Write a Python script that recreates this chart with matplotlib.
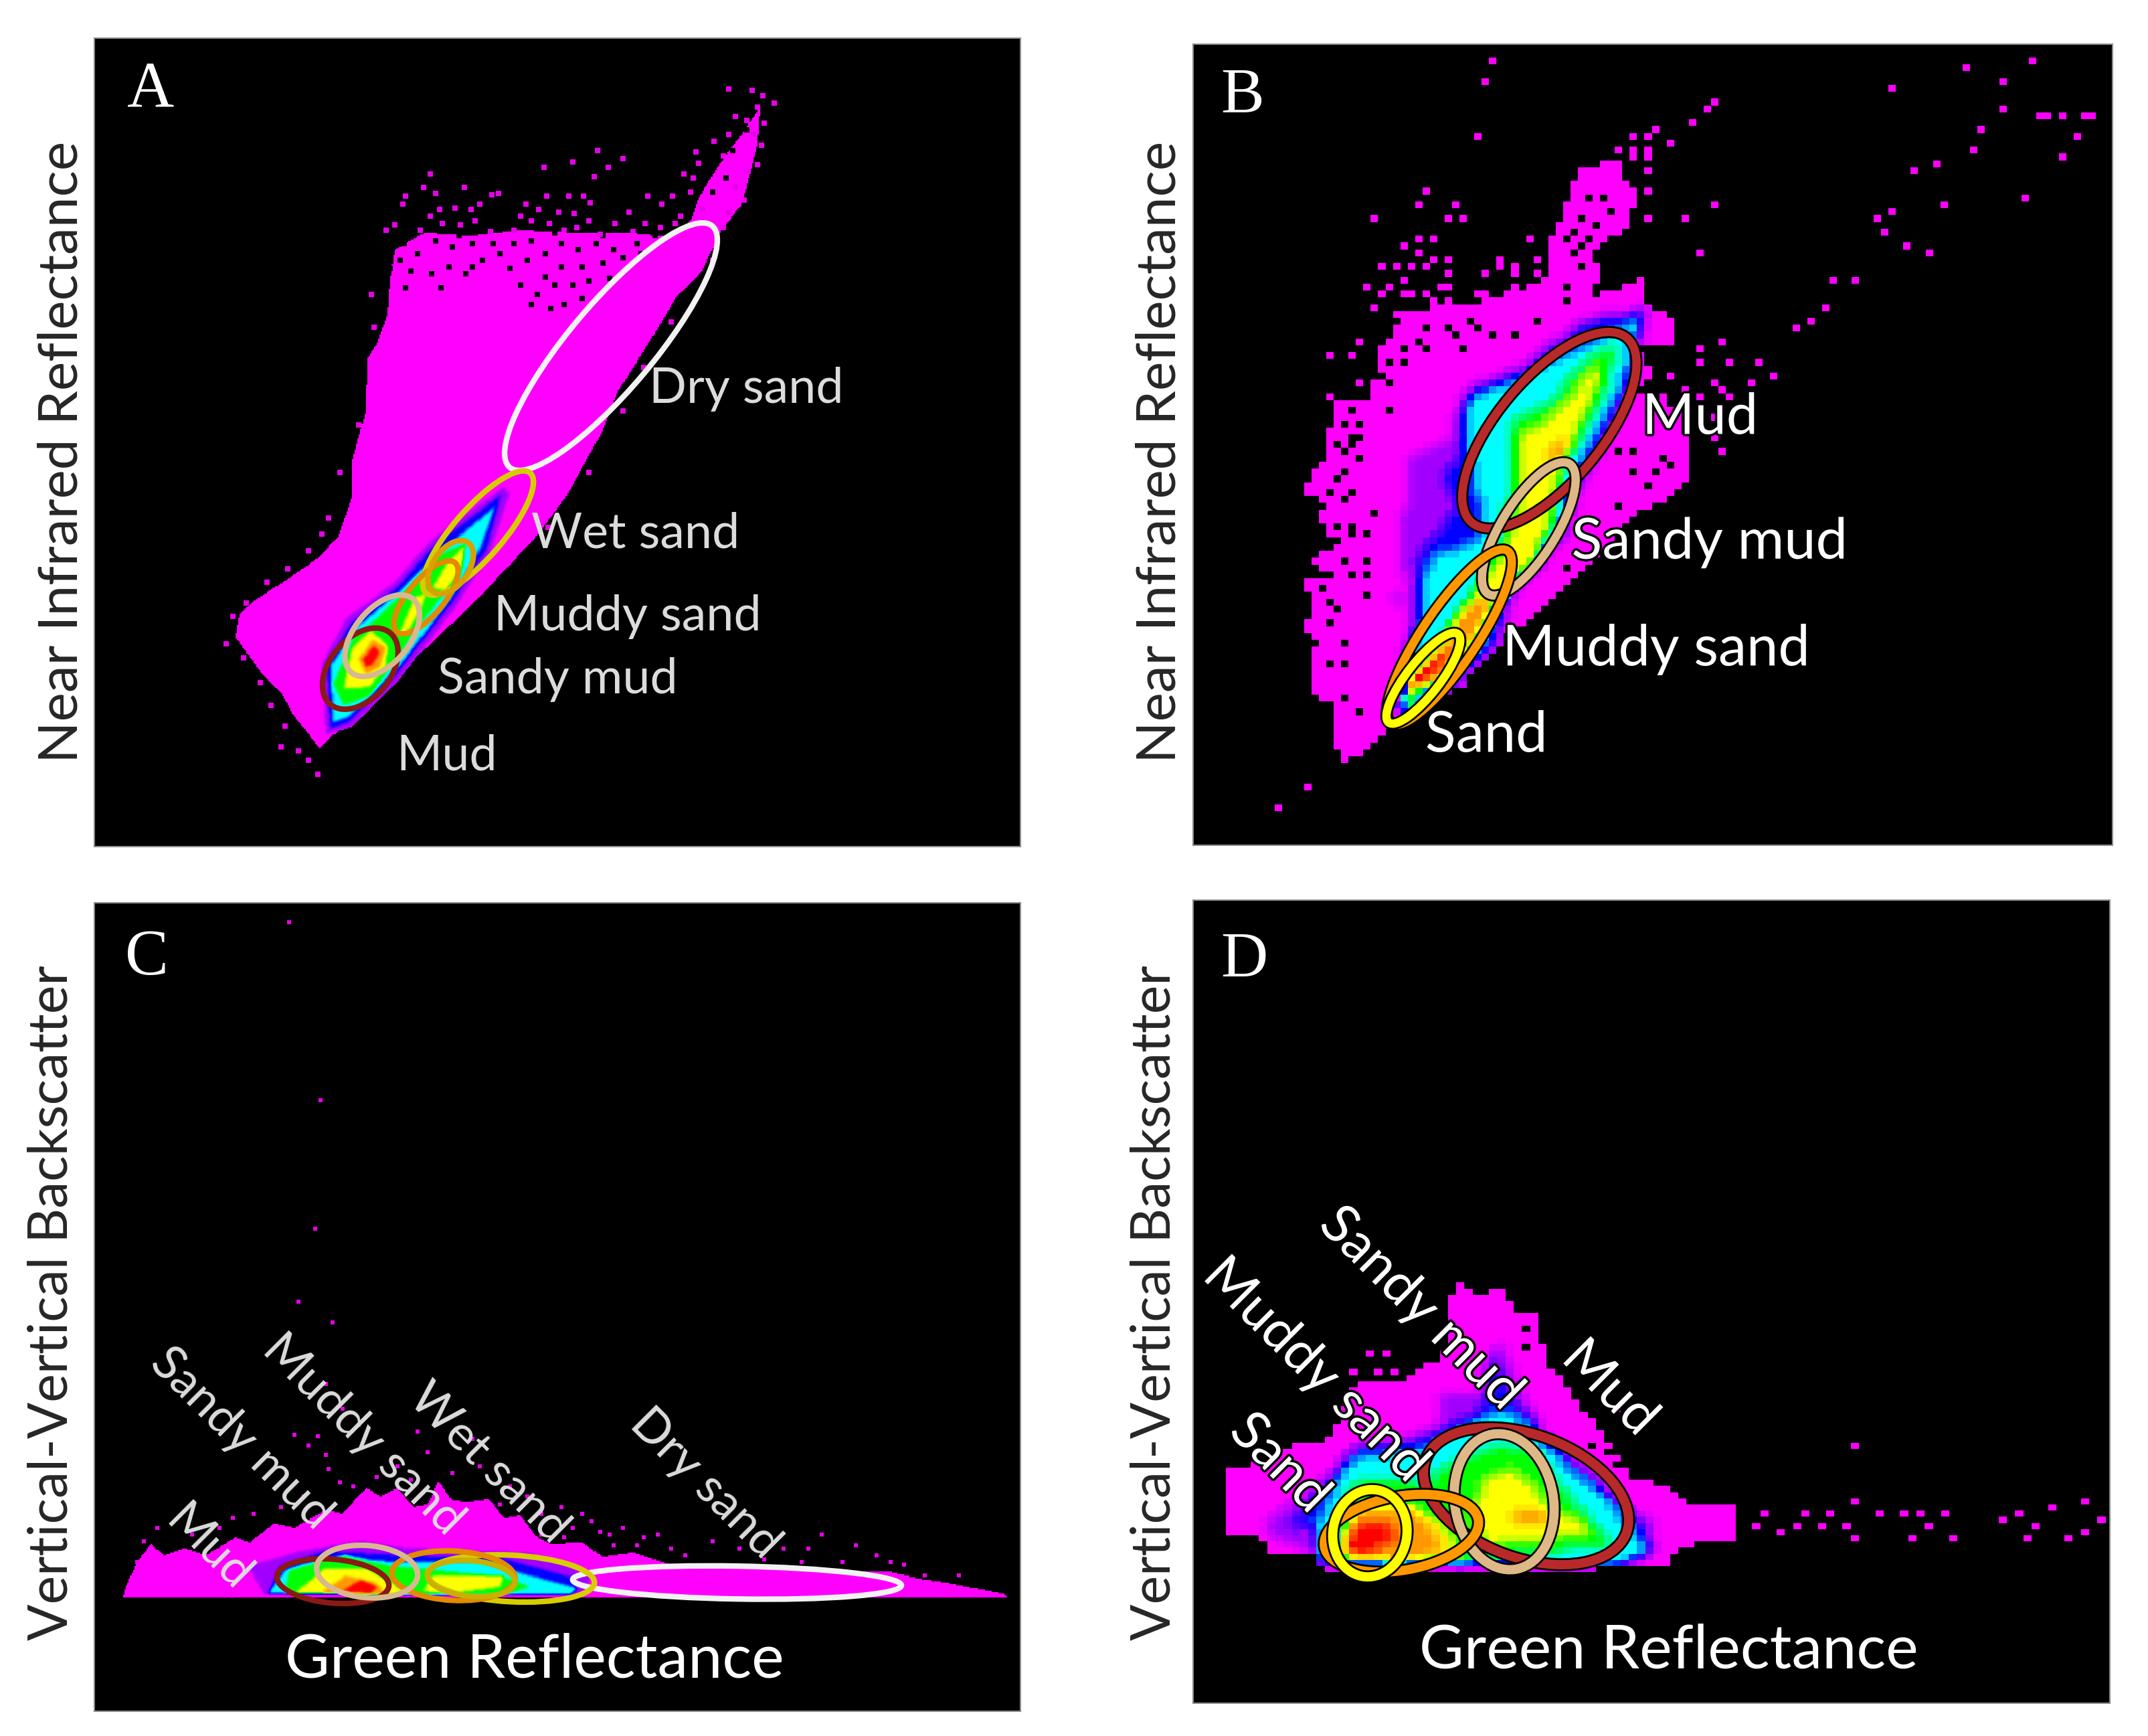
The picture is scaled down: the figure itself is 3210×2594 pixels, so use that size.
import numpy as np
import matplotlib
matplotlib.use("Agg")
import matplotlib.pyplot as plt
import matplotlib.patheffects as pe
from matplotlib.colors import LinearSegmentedColormap
from matplotlib.patches import Ellipse
from matplotlib.path import Path

# all positions, in preview pixels (1568 wide)
W, H = 1568, 1267

panel_a = (69, 745, 28, 618)
panel_b = (871, 1542, 32, 617)
panel_c = (69, 745, 659, 1249)
panel_d = (871, 1540, 657, 1243)

# density levels: 0 magenta, 1 purple, 2 blue, 3 cyan, 4 green, 5 yellow, 6 orange, 7 red
a_regions = [
    (0, [(233,546),(213,520),(205,505),(190,490),(172,465),(175,448),(186,438),(205,426),(234,406),(247,391),(257,363),(257,337),(267,300),(268,262),(275,251),(283,230),(301,221),(332,213),(358,202),(375,213),(393,231),(419,236),(432,228),(454,205),(475,186),(489,173),(505,160),(510,145),(525,120),(540,100),(555,78),(553,105),(548,125),(541,150),(526,169),(513,197),(495,215),(478,243),(451,286),(439,316),(413,363),(391,392),(348,438),(256,525)]),
    (0, [(283,230),(285,205),(288,182),(310,170),(345,172),(380,168),(420,170),(460,170),(489,173),(475,186),(454,205),(432,228),(419,236),(393,231),(375,213),(358,202),(332,213),(301,221)]),
    (1, [(238,536),(235,485),(252,452),(288,425),(314,395),(368,355),(372,361),(357,405),(331,445),(293,494),(256,531)]),
    (2, [(241,532),(239,485),(256,455),(290,429),(316,399),(366,361),(355,401),(329,441),(291,490),(254,527)]),
    (3, [(243,527),(242,485),(259,459),(290,433),(319,405),(361,370),(350,401),(326,441),(290,488),(254,523)]),
    (4, [(243,499),(259,464),(277,450),(300,426),(321,405),(340,396),(337,419),(326,431),(303,460),(287,485),(270,508),(251,515)]),
    (5, [(251,502),(257,474),(270,460),(283,471),(282,485),(270,501),(259,502)]),
    (5, [(291,464),(303,436),(311,433),(306,447),(298,460)]),
    (5, [(316,429),(326,412),(339,399),(337,412),(326,431)]),
    (6, [(262,481),(272,467),(282,473),(277,487),(267,492)]),
    (7, [(265,481),(273,471),(277,476),(272,485),(267,487)]),
]
a_specks = [(314,127),(309,137),(339,137),(318,141),(296,143),(294,149),(359,142),(364,141),(397,122),(418,118),(436,110),(455,116),(444,122),(434,129),(473,143),(459,155),(384,149),(399,143),(415,143),(426,143),(431,148),(332,152),(344,153),(350,149),(321,153),(314,158),(288,164),(282,168),(380,158),(393,153),(408,155),(419,156),(388,161),(430,161),(449,163),(471,163),(307,168),(323,163),(336,164),(347,161),(358,169),(375,168),(401,163),(412,168),(421,166),(438,171),(462,169),(482,166),(271,215),(273,239),
            (532,65),(549,66),(557,70),(565,75),(553,78),(545,88),(558,90),(537,85),(532,98),(550,98),(556,106),(521,103),(508,111),(528,114),(553,120),(545,125),(499,127),(510,119),(506,130),(537,137),(543,146),(491,143),(504,140),(483,149),(497,158),(513,153),(532,155),(493,163),(528,166),
            (262,310),(248,345),(240,378),(235,390),(225,402),(210,415),(195,425),(180,440),(170,450),(165,470),(178,480),(190,498),(198,515),(208,530),(218,548),(225,555),(232,565),(205,545),(520,190),(490,235),(470,268),(455,300),(430,345),(400,385)]
a_dark = [(295,178),(305,185),(318,176),(330,180),(345,178),(352,190),(365,185),(375,178),(388,176),(398,185),(410,178),(422,182),(435,178),(448,182),(465,178),(300,198),(315,200),(328,195),(340,200),(372,196),(385,190),(398,202),(410,195),(425,195),(440,192),(455,188),(296,210),(322,210),(380,208),(392,215),(405,208),(418,208),(430,205),(445,203),(402,225),(412,222),(425,218),(388,222),(292,190),(360,178),(345,195),(335,172),(405,170),(440,172),(478,172),(468,185),(285,196),(530,130),(520,140),(535,110),(545,95)]

b_regions = [
    (0, [(983,558),(971,536),(971,514),(957,508),(957,484),(961,467),(950,456),(961,448),(957,438),(950,423),(972,422),(957,407),(976,399),(961,376),(972,371),(950,357),(967,334),(967,317),(971,314),(976,291),(998,290),(998,282),(1013,272),(1005,269),(1007,251),(1015,244),(1015,231),(1037,225),(1076,222),(1118,208),(1131,199),(1131,173),(1138,164),(1146,137),(1153,125),(1168,119),(1183,119),(1186,133),(1199,142),(1188,156),(1188,166),(1175,174),(1168,181),(1168,200),(1159,218),(1199,203),(1199,220),(1220,230),(1223,252),(1194,254),(1207,270),(1194,285),(1229,300),(1231,334),(1231,352),(1214,366),(1190,378),(1164,410),(1155,415),(1138,431),(1111,456),(1092,469),(1007,537)]),
    (1, [(1028,334),(1070,317),(1070,383),(1085,396),(1044,405),(1022,422),(1018,451)]),
    (1, [(1205,222),(1196,256),(1192,282),(1178,314),(1152,360),(1143,392),(1105,436),(1096,470),(1067,501),(1024,524),(1022,498),(1032,405),(1062,368),(1047,346),(1062,335),(1060,305),(1072,282),(1110,266),(1156,232),(1195,224)]),
    (2, [(1203,226),(1194,254),(1190,280),(1175,311),(1149,357),(1140,389),(1102,433),(1093,466),(1065,498),(1024,520),(1027,498),(1035,407),(1065,368),(1050,346),(1065,337),(1063,307),(1074,285),(1111,270),(1158,235),(1196,228)]),
    (3, [(1197,230),(1190,259),(1184,280),(1169,311),(1147,350),(1136,389),(1098,433),(1087,466),(1057,498),(1027,505),(1040,433),(1042,407),(1074,396),(1083,385),(1069,313),(1074,289),(1102,280),(1140,259),(1177,243)]),
    (4, [(1179,252),(1175,274),(1164,302),(1141,337),(1134,385),(1102,426),(1083,459),(1061,494),(1029,505),(1046,472),(1063,453),(1080,424),(1097,396),(1102,357),(1102,320),(1102,307),(1130,296),(1155,265)]),
    (5, [(1171,261),(1164,289),(1151,317),(1140,337),(1134,368),(1121,411),(1108,422),(1091,442),(1072,470),(1057,494),(1031,503),(1054,470),(1072,437),(1098,402),(1108,368),(1110,317),(1136,302),(1155,278)]),
    (6, [(1140,317),(1146,322),(1136,340),(1128,335)]),
    (6, [(1083,433),(1089,444),(1072,474),(1054,494),(1027,505),(1052,470),(1069,444)]),
    (7, [(1055,472),(1046,494),(1024,516),(1027,498),(1042,481)]),
]
b_specks = [(1090,45),(1085,58),(1080,100),(1250,75),(1245,82),(1383,65),(1435,50),(1486,43),(1495,87),(1505,115),(1478,147),(1445,95),(1440,110),(1415,120),(1395,127),(1380,155),(1370,160),(1375,170),(1390,178),(1410,185),(1420,150),(1340,203),(1355,205),(1330,225),(1320,235),(1310,240),(1285,265),(1295,275),(1280,280),(1265,290),(1252,305),(1230,320),(952,575),(932,590),(1520,85),(1525,87),(1515,100),(1490,85),(1505,85),(1462,80),(1460,60),
            (1078,102),(1206,95),(1234,90),(1192,102),(1202,102),(1218,107),(1179,112),(1192,112),(1202,112),(1192,117),(1202,117),(1202,127),(1202,138),(1249,148),(1202,159),(1228,159),(1243,185),(1041,142),(1035,148),(1062,148),(1005,159),(1057,159),(1067,159),(1119,174),(1035,174),(1047,174),(1025,179),(1035,185),(1047,190),(1057,190),(1057,199),(1010,195),(1020,195),(1031,197),(1041,195),(1093,189),(1096,195),(1108,195),(1104,200),(1083,200),(1124,190),(1124,200),(1025,207),(1000,210),(1015,210),(1010,216),(1025,216),(1031,216),(1041,216),(1050,209),(1059,209),(1059,218),(1079,216),(1083,215),(1104,210),(1112,216),(1104,221),(1098,227),(1005,226),(1020,231),(1048,220),(1070,226),(991,251),(989,262),(969,262),(995,278),(969,289),(1243,257),(1259,251),(1243,267),(1261,267),(1218,273),(1228,283),(1253,278),(1257,285),(1243,290),(1212,288),(1253,319),(1257,329),(1229,322)]
b_holes = [(1160,147),(1171,147),(1177,153),(1155,159),(1163,164),(1150,168),(1161,174),(1144,174),(1155,181),(1151,184),(1166,184),(1166,190),(1155,194),(1146,212),(1146,218),(1020,237),(1041,242),(1057,238),(1072,236),(1063,246),(1087,245),(1104,247),(1124,234),(1078,242),(1025,257),(1041,257),(1067,257),(1035,251),(1012,267),(1025,267),(1015,278),(1015,299),(1202,257),(1207,262),(985,299),(983,309),(995,309),(995,319),(978,324),(989,322),(984,330),
           (989,324),(984,331),(990,335),(984,346),(976,352),(972,361),(989,361),(980,366),(1005,376),(974,386),(985,383),(985,391),(1000,388),(974,397),(998,408),(984,410),(973,418),(989,420),(1000,418),(963,430),(1000,434),(973,439),(978,444),(973,455),(984,471),(984,484),(973,486),(980,512),(995,518),(1181,371),(1202,356),(1181,331),(1192,331),(1193,346),(1212,337),(1211,346),(1220,339),(1144,414)]

c_regions = [
    (0, [(92,1158),(100,1140),(110,1127),(120,1135),(135,1130),(150,1135),(159,1130),(172,1122),(182,1126),(200,1112),(215,1115),(238,1102),(250,1105),(267,1086),(278,1092),(290,1086),(302,1100),(312,1098),(320,1081),(330,1095),(342,1096),(357,1094),(368,1108),(380,1106),(392,1122),(402,1127),(425,1126),(440,1136),(462,1133),(490,1142),(518,1143),(560,1142),(600,1148),(649,1147),(670,1152),(690,1155),(732,1163),(735,1166),(90,1166)]),
    (1, [(181,1143),(219,1132),(264,1125),(297,1130),(387,1133),(432,1150),(425,1164),(193,1164)]),
    (2, [(196,1163),(204,1143),(237,1132),(294,1135),(365,1137),(417,1151),(421,1161),(380,1164)]),
    (3, [(196,1163),(208,1146),(237,1137),(290,1140),(350,1140),(387,1150),(421,1159),(417,1164)]),
    (4, [(208,1163),(211,1146),(252,1135),(286,1143),(320,1146),(368,1151),(387,1158),(368,1164)]),
    (5, [(215,1163),(237,1145),(267,1145),(286,1155),(297,1164)]),
    (5, [(309,1161),(316,1150),(368,1150),(365,1158),(327,1163)]),
    (6, [(234,1163),(252,1150),(275,1155),(282,1164)]),
    (7, [(249,1161),(264,1153),(275,1158),(271,1163)]),
]
c_specks = [(211,673),(234,803),(230,897),(218,950),(243,965),(238,1010),(250,1028),(215,1047),(232,1048),(238,1062),(225,1055),(240,1072),(262,1040),(258,1085),(290,1070),(300,1080),(305,1045),(312,1060),(345,1050),(350,1070),(372,1085),(385,1092),(395,1105),(410,1100),(418,1115),(432,1110),(445,1120),(455,1115),(465,1128),(480,1120),(490,1130),(500,1135),(520,1125),(540,1130),(590,1130),(600,1120),(615,1140),(640,1135),(660,1142),(675,1150),(160,1115),(140,1120),(115,1115),(105,1125),(100,1140),
            (425,1105),(438,1118),(448,1128),(470,1122),(558,1138),(572,1130),(585,1140),(625,1128),(650,1140),(700,1150),(170,1108),(185,1105),(205,1100),(222,1092),(248,1082),(275,1078),(330,1075),(365,1098),(395,1120),(412,1122)]

d_regions = [
    (0, [(893,1072),(893,1122),(925,1123),(925,1135),(964,1135),(964,1141),(970,1147),(1166,1147),(1166,1141),(1218,1141),(1228,1128),(1270,1123),(1270,1099),(1233,1097),(1211,1083),(1191,1078),(1166,1042),(1129,993),(1121,957),(1104,957),(1098,940),(1079,944),(1068,935),(1059,946),(1059,974),(1049,993),(1034,998),(1026,1010),(989,1010),(979,1034),(966,1052),(942,1055),(912,1070)]),
    (1, [(927,1122),(927,1106),(959,1084),(984,1063),(1014,1052),(1051,1039),(1054,1019),(1078,1016),(1094,974),(1104,1001),(1126,1042),(1188,1101),(1208,1110),(1208,1135),(964,1135)]),
    (2, [(937,1117),(949,1106),(976,1070),(991,1055),(1041,1050),(1059,1039),(1083,1029),(1091,985),(1099,1016),(1119,1034),(1128,1052),(1161,1075),(1196,1107),(1208,1135),(1188,1141),(964,1141),(957,1112)]),
    (3, [(964,1140),(964,1107),(979,1075),(996,1062),(1039,1057),(1074,1039),(1096,1029),(1111,1036),(1128,1055),(1171,1092),(1188,1112),(1203,1133),(1183,1141)]),
    (4, [(979,1136),(986,1084),(1009,1078),(1041,1084),(1054,1071),(1094,1055),(1119,1058),(1138,1084),(1161,1109),(1176,1128),(1129,1133),(1069,1141)]),
    (5, [(984,1094),(1029,1099),(1054,1112),(1069,1138),(980,1138)]),
    (5, [(1074,1107),(1084,1078),(1104,1071),(1121,1083),(1129,1099),(1156,1112),(1161,1122),(1129,1123),(1086,1128)]),
    (6, [(984,1138),(986,1106),(1026,1099),(1044,1112),(1054,1132),(1019,1141)]),
    (6, [(1104,1101),(1126,1101),(1126,1110),(1104,1110)]),
    (7, [(981,1130),(986,1114),(1014,1112),(1019,1123),(996,1135)]),
]
d_specks = [(1352,1056),(1355,1095),(1290,1105),(1300,1120),(1320,1105),(1335,1105),(1350,1112),(1352,1125),(1375,1105),(1390,1105),(1400,1105),(1410,1115),(1420,1105),(1425,1125),(1395,1125),(1460,1108),(1475,1105),(1485,1115),(1500,1100),(1525,1095),(1525,1120),(1535,1110),(1510,1125),(1480,1125),(1285,1112),(1310,1112),(1330,1112),(1180,1030),(1000,990),(1012,990),(990,1000),(1005,1000),(1020,1000)]
d_holes = [(1112,970),(1112,982),(1165,1055),(1172,1062),(1180,1070),(1190,1050)]

# ellipses: colour, centre x, centre y, half length, half width, angle
a_rings = [
    ('#f2f2f2', 446, 253, 115, 31, -50),
    ('#d8cc00', 349, 389, 58, 18, -49),
    ('#e28a00', 311, 436, 33, 13, -50),
    ('#d8a000', 329, 414, 22, 13, -55),
    ('#8a1a14', 263, 488, 34, 22, -50),
    ('#d8b890', 279, 464, 35, 20, -50),
]
b_rings = [
    ('#b82a2a', 1131, 314, 88, 38, -50),
    ('#deb887', 1116, 386, 56, 20, -58),
    ('#ff9800', 1058, 465, 76, 20, -56),
    ('#ffff00', 1039, 495, 41, 12, -52),
]
c_rings = [
    ('#f2f2f2', 538, 1155, 120, 12, 1),
    ('#d8cc00', 373, 1152, 61, 17, 3),
    ('#e28a00', 331, 1150, 45, 18, 3),
    ('#c9b000', 344, 1152, 32, 13, 5),
    ('#8a1a14', 243, 1154, 41, 16, 5),
    ('#d8b890', 268, 1147, 37, 19, 5),
]
d_rings = [
    ('#b82a2a', 1114, 1092, 78, 45, 20),
    ('#deb887', 1098, 1096, 50, 36, 80),
    ('#ff9800', 1023, 1119, 57, 27, -10),
    ('#ffff00', 1000, 1119, 32, 27, -80),
]

# text, x, y
a_labels = [("Dry sand", 545, 284), ("Wet sand", 464, 390), ("Muddy sand", 458, 450), ("Sandy mud", 407, 496), ("Mud", 326, 552)]
b_labels = [("Mud", 1241, 305), ("Sandy mud", 1248, 396), ("Muddy sand", 1209, 474), ("Sand", 1085, 537)]
c_labels = [("Mud", 152, 1130), ("Sandy mud", 176, 1050), ("Muddy sand", 265, 1047), ("Wet sand", 357, 1068), ("Dry sand", 515, 1083)]
d_labels = [("Sand", 934, 1068), ("Muddy sand", 960, 1000), ("Sandy mud", 1037, 955), ("Mud", 1175, 1013)]

level_colors = ['#ff00ff', '#a000ff', '#0000ff', '#00ffff', '#00ff00', '#ffff00', '#ff9a00', '#ff0000']
cmap = LinearSegmentedColormap.from_list('density', level_colors)
cmap.set_bad('black')

LABEL_FONT = ['Lato', 'DejaVu Sans']
LETTER_FONT = ['Liberation Serif', 'DejaVu Serif']


def density_mesh(ax, box, regions, cx, cy, blur, specks=(), holes=()):
    x0, x1, y0, y1 = box
    xe = np.arange(x0, x1 + cx, cx)
    ye = np.arange(y0, y1 + cy, cy)
    xc = (xe[:-1] + xe[1:]) / 2
    yc = (ye[:-1] + ye[1:]) / 2
    xx, yy = np.meshgrid(xc, yc)
    pts = np.column_stack([xx.ravel(), yy.ravel()])
    lev = np.full(xx.shape, np.nan)
    for level, poly in regions:
        inside = Path(poly).contains_points(pts).reshape(xx.shape)
        lev[inside & ~(lev > level)] = level

    mask = np.isnan(lev)
    smooth = np.where(mask, 0.0, lev)
    for _ in range(blur):
        smooth = (smooth + np.roll(smooth, 1, 0) + np.roll(smooth, -1, 0)
                  + np.roll(smooth, 1, 1) + np.roll(smooth, -1, 1)) / 5
    lev = np.where(mask, np.nan, smooth)

    for sx, sy in specks:
        i, j = np.searchsorted(ye, sy) - 1, np.searchsorted(xe, sx) - 1
        if 0 <= i < lev.shape[0] and 0 <= j < lev.shape[1]:
            lev[i, j] = 0
    for sx, sy in holes:
        i, j = np.searchsorted(ye, sy) - 1, np.searchsorted(xe, sx) - 1
        if 0 <= i < lev.shape[0] and 0 <= j < lev.shape[1] and lev[i, j] < 0.5:
            lev[i, j] = np.nan

    ax.pcolormesh(xe, ye, np.ma.masked_invalid(lev), cmap=cmap, vmin=0, vmax=7, shading='flat', rasterized=True)


def draw_rings(ax, rings, lw, edge_lw=0):
    for color, x, y, a, b, ang in rings:
        if edge_lw:
            ax.add_patch(Ellipse((x, y), 2 * a, 2 * b, angle=ang, fill=False, ec='black', lw=lw + edge_lw, zorder=3))
        ax.add_patch(Ellipse((x, y), 2 * a, 2 * b, angle=ang, fill=False, ec=color, lw=lw, zorder=3))


def draw_labels(ax, labels, color, size, rotation=0, outline=False):
    for txt, x, y in labels:
        t = ax.text(x, y, txt, color=color, fontsize=size, family=LABEL_FONT, rotation=rotation,
                    rotation_mode='anchor', ha='center', va='center', zorder=5)
        if outline:
            t.set_path_effects([pe.withStroke(linewidth=5, foreground='black')])


fig = plt.figure(figsize=(32.1, 25.94), dpi=100, facecolor='white')


def make_axes(box):
    x0, x1, y0, y1 = box
    ax = fig.add_axes([x0 / W, 1 - y1 / H, (x1 - x0) / W, (y1 - y0) / H], facecolor='black')
    ax.set_xlim(x0, x1)
    ax.set_ylim(y1, y0)
    ax.set_xticks([])
    ax.set_yticks([])
    for s in ax.spines.values():
        s.set_color('#8c8c8c')
        s.set_linewidth(1.5)
    return ax


ax_a = make_axes(panel_a)
ax_b = make_axes(panel_b)
ax_c = make_axes(panel_c)
ax_d = make_axes(panel_d)

density_mesh(ax_a, panel_a, a_regions, 1.0, 1.0, 2)
ax_a.scatter(*zip(*a_dark), s=40, marker='s', color='black', linewidths=0, zorder=1.5)
ax_a.scatter(*zip(*a_specks), s=30, marker='s', color='#e800e8', linewidths=0, zorder=2)
draw_rings(ax_a, a_rings, 6)
draw_labels(ax_a, a_labels, '#dcdcdc', 53)

density_mesh(ax_b, panel_b, b_regions, 5.4, 5.0, 1, b_specks, b_holes)
draw_rings(ax_b, b_rings, 9, 4)
draw_labels(ax_b, b_labels, 'white', 61, outline=True)

density_mesh(ax_c, panel_c, c_regions, 1.0, 1.0, 2)
ax_c.scatter(*zip(*c_specks), s=14, marker='s', color='#e800e8', linewidths=0, zorder=2)
draw_rings(ax_c, c_rings, 6)
draw_labels(ax_c, c_labels, '#dcdcdc', 52, rotation=-45)

density_mesh(ax_d, panel_d, d_regions, 6.0, 4.5, 1, d_specks, d_holes)
draw_rings(ax_d, d_rings, 10, 4)
draw_labels(ax_d, d_labels, 'white', 58, rotation=-45, outline=True)

# panel letters
for ax, letter, x, y in [(ax_a, 'A', 110, 66), (ax_b, 'B', 907, 71), (ax_c, 'C', 107, 700), (ax_d, 'D', 908, 702)]:
    ax.text(x, y, letter, color='white', fontsize=70, family=LETTER_FONT, ha='center', va='center', zorder=6)

# axis titles
for ax, x in [(ax_a, 45), (ax_b, 847)]:
    ax.text(x, 330, 'Near Infrared Reflectance', color='#262626', fontsize=59, family=LABEL_FONT,
            rotation=90, ha='center', va='center', clip_on=False)
for ax, x in [(ax_c, 38), (ax_d, 843)]:
    ax.text(x, 951, 'Vertical-Vertical Backscatter', color='#262626', fontsize=58, family=LABEL_FONT,
            rotation=90, ha='center', va='center', clip_on=False)
ax_c.text(390, 1212, 'Green Reflectance', color='white', fontsize=66, family=LABEL_FONT, ha='center', va='center')
ax_d.text(1218, 1205, 'Green Reflectance', color='white', fontsize=66, family=LABEL_FONT, ha='center', va='center')

fig.savefig('out.png', dpi=100)
